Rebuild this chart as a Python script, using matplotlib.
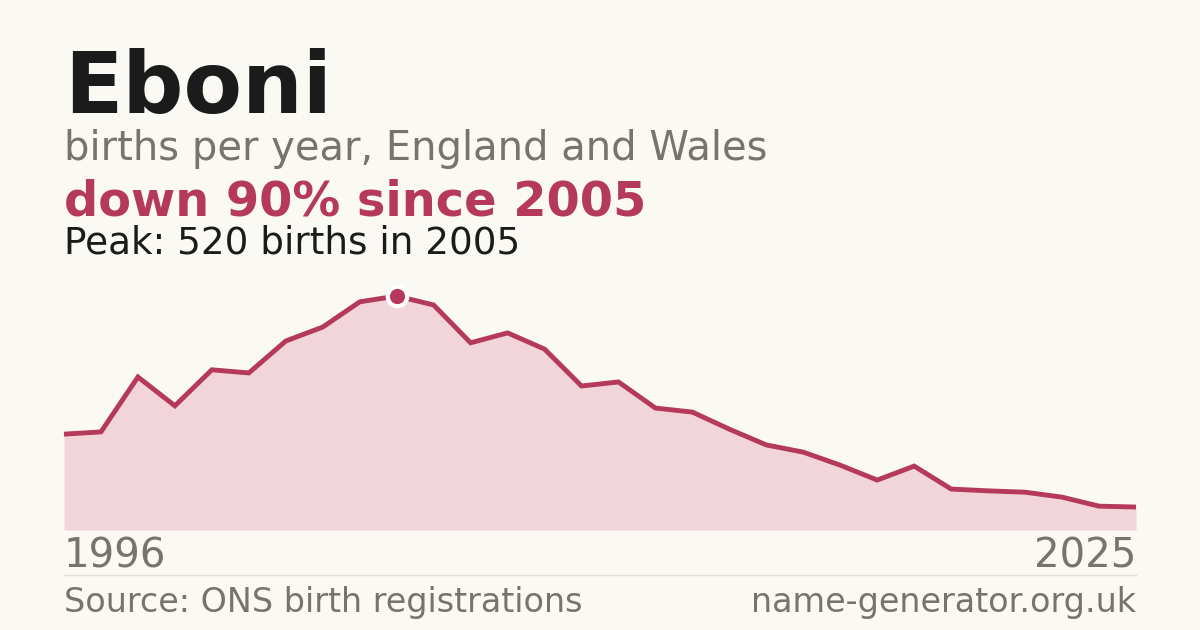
import matplotlib
matplotlib.use("Agg")
import matplotlib.pyplot as plt

years = list(range(1996, 2026))
births = [213, 218, 340, 276, 356, 349, 420, 451, 507, 520, 500, 416, 438, 402, 320,
          329, 271, 262, 224, 189, 173, 144, 111, 142, 91, 87, 84, 73, 53, 51]

title = "Eboni"
subtitle = "births per year, England and Wales"
headline = "down 90% since 2005"
peak_text = "Peak: 520 births in 2005"
source = "Source: ONS birth registrations"
site = "name-generator.org.uk"

BG = "#faf9f4"
RED = "#b5395a"
FILL = "#f1d5da"
DARK = "#1b1b1b"
GRAY = "#78736b"

plt.rcParams['font.family'] = ['DejaVu Sans']
W, H = 1200, 630
fig = plt.figure(figsize=(W / 100, H / 100), dpi=100, facecolor=BG)

def fx(px):
    return px / W

def fy(py):
    return 1 - py / H

left, right = 64, 1136
base_y, peak_y = 530, 296
ax = fig.add_axes([fx(left), fy(base_y), fx(right - left), (base_y - peak_y) / H])
ax.set_facecolor("none")
ax.set_xlim(years[0], years[-1])
ax.set_ylim(0, max(births))
ax.fill_between(years, births, 0, color=FILL, lw=0, zorder=1)
ax.plot(years, births, color=RED, lw=3.5, solid_joinstyle='miter', solid_capstyle='butt',
        zorder=2, clip_on=False)
pi = births.index(max(births))
ax.plot([years[pi]], [births[pi]], 'o', ms=14, mfc=RED, mec='white', mew=3, zorder=3, clip_on=False)
ax.axis('off')

fig.text(fx(64), fy(113), title, fontsize=61.5, fontweight='bold', color=DARK, va='baseline', ha='left')
fig.text(fx(64), fy(160), subtitle, fontsize=28.8, color=GRAY, va='baseline', ha='left')
fig.text(fx(64), fy(215), headline, fontsize=34.5, fontweight='bold', color=RED, va='baseline', ha='left')
fig.text(fx(64), fy(253), peak_text, fontsize=26.9, color=DARK, va='baseline', ha='left')

fig.text(fx(64), fy(568), str(years[0]), fontsize=29, color=GRAY, va='baseline', ha='left')
fig.text(fx(1136), fy(568), str(years[-1]), fontsize=29, color=GRAY, va='baseline', ha='right')

fig.add_artist(plt.Line2D([fx(64), fx(1136)], [fy(574.5), fy(574.5)], color="#e0ddd5", lw=1))

fig.text(fx(64), fy(612), source, fontsize=24, color=GRAY, va='baseline', ha='left')
fig.text(fx(1136), fy(612), site, fontsize=24, color=GRAY, va='baseline', ha='right')

fig.savefig("out.png", dpi=100, facecolor=BG)
